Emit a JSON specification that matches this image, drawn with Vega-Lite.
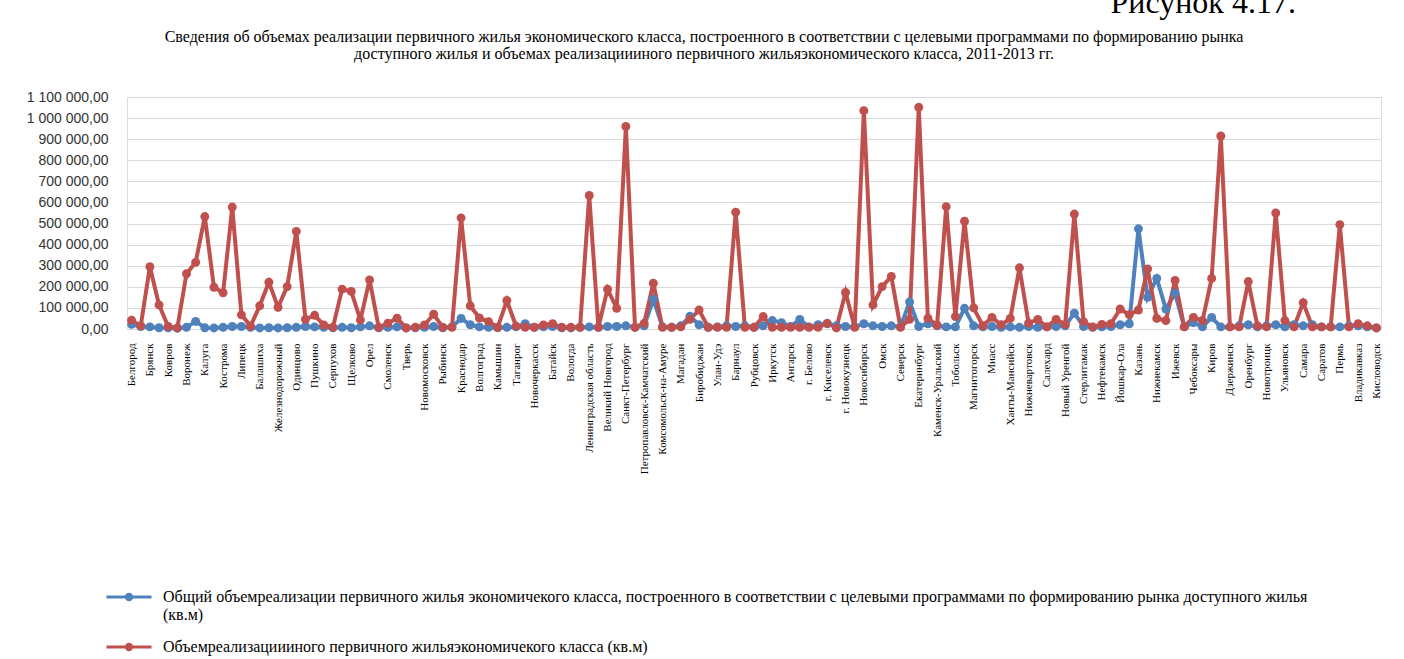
{
  "$schema": "https://vega.github.io/schema/vega-lite/v6.json",
  "width": 1254,
  "height": 232,
  "autosize": {"type": "none"},
  "padding": {"left": 127, "top": 97, "right": 23, "bottom": 330},
  "background": "white",
  "title": {
    "text": ["Сведения об объемах реализации первичного жилья экономического класса, построенного в соответствии с целевыми программами по формированию рынка", "доступного жилья и объемах реализациииного первичного жильяэкономического класса, 2011-2013 гг."],
    "font": "Liberation Serif",
    "fontSize": 16,
    "fontWeight": "normal",
    "color": "black",
    "anchor": "middle",
    "frame": "group",
    "dx": -50,
    "dy": 105,
    "offset": 29,
    "lineHeight": 17
  },
  "data": {
    "values": [
      {"c": "Белгород", "a": 22000, "b": 42000},
      {"c": "#1", "a": 12000, "b": 15000},
      {"c": "Брянск", "a": 10000, "b": 295000},
      {"c": "#3", "a": 6000, "b": 114000},
      {"c": "Ковров", "a": 5000, "b": 12000},
      {"c": "#5", "a": 4000, "b": 5000},
      {"c": "Воронеж", "a": 8000, "b": 262000},
      {"c": "#7", "a": 36000, "b": 316000},
      {"c": "Калуга", "a": 6000, "b": 533000},
      {"c": "#9", "a": 5000, "b": 198000},
      {"c": "Кострома", "a": 8000, "b": 172000},
      {"c": "#11", "a": 12000, "b": 578000},
      {"c": "Липецк", "a": 12000, "b": 67000},
      {"c": "#13", "a": 8000, "b": 14000},
      {"c": "Балашиха", "a": 5000, "b": 110000},
      {"c": "#15", "a": 6000, "b": 222000},
      {"c": "Железнодорожный", "a": 5000, "b": 103000},
      {"c": "#17", "a": 6000, "b": 201000},
      {"c": "Одинцово", "a": 8000, "b": 463000},
      {"c": "#19", "a": 12000, "b": 46000},
      {"c": "Пушкино", "a": 10000, "b": 65000},
      {"c": "#21", "a": 8000, "b": 19000},
      {"c": "Серпухов", "a": 6000, "b": 8000},
      {"c": "#23", "a": 8000, "b": 189000},
      {"c": "Щелково", "a": 6000, "b": 178000},
      {"c": "#25", "a": 10000, "b": 43000},
      {"c": "Орел", "a": 15000, "b": 233000},
      {"c": "#27", "a": 6000, "b": 8000},
      {"c": "Смоленск", "a": 8000, "b": 27000},
      {"c": "#29", "a": 10000, "b": 51000},
      {"c": "Тверь", "a": 5000, "b": 5000},
      {"c": "#31", "a": 6000, "b": 8000},
      {"c": "Новомосковск", "a": 8000, "b": 19000},
      {"c": "#33", "a": 12000, "b": 70000},
      {"c": "Рыбинск", "a": 6000, "b": 8000},
      {"c": "#35", "a": 10000, "b": 8000},
      {"c": "Краснодар", "a": 50000, "b": 527000},
      {"c": "#37", "a": 20000, "b": 110000},
      {"c": "Волгоград", "a": 10000, "b": 52000},
      {"c": "#39", "a": 8000, "b": 35000},
      {"c": "Камышин", "a": 6000, "b": 8000},
      {"c": "#41", "a": 8000, "b": 135000},
      {"c": "Таганрог", "a": 10000, "b": 14000},
      {"c": "#43", "a": 25000, "b": 8000},
      {"c": "Новочеркасск", "a": 8000, "b": 8000},
      {"c": "#45", "a": 10000, "b": 19000},
      {"c": "Батайск", "a": 12000, "b": 25000},
      {"c": "#47", "a": 6000, "b": 8000},
      {"c": "Вологда", "a": 5000, "b": 8000},
      {"c": "#49", "a": 8000, "b": 8000},
      {"c": "Ленинградская  область", "a": 10000, "b": 633000},
      {"c": "#51", "a": 8000, "b": 8000},
      {"c": "Великий Новгород", "a": 12000, "b": 189000},
      {"c": "#53", "a": 12000, "b": 98000},
      {"c": "Санкт-Петербург", "a": 15000, "b": 960000},
      {"c": "#55", "a": 8000, "b": 8000},
      {"c": "Петропавловск-Камчатский", "a": 15000, "b": 27000},
      {"c": "#57", "a": 140000, "b": 217000},
      {"c": "Комсомольск-на-Амуре", "a": 10000, "b": 8000},
      {"c": "#59", "a": 8000, "b": 8000},
      {"c": "Магадан", "a": 15000, "b": 10000},
      {"c": "#61", "a": 60000, "b": 46000},
      {"c": "Биробиджан", "a": 20000, "b": 90000},
      {"c": "#63", "a": 8000, "b": 8000},
      {"c": "Улан-Удэ", "a": 10000, "b": 8000},
      {"c": "#65", "a": 15000, "b": 8000},
      {"c": "Барнаул", "a": 12000, "b": 554000},
      {"c": "#67", "a": 15000, "b": 8000},
      {"c": "Рубцовск", "a": 8000, "b": 8000},
      {"c": "#69", "a": 15000, "b": 59000},
      {"c": "Иркутск", "a": 40000, "b": 8000},
      {"c": "#71", "a": 30000, "b": 8000},
      {"c": "Ангарск", "a": 12000, "b": 8000},
      {"c": "#73", "a": 45000, "b": 8000},
      {"c": "г. Белово", "a": 10000, "b": 8000},
      {"c": "#75", "a": 20000, "b": 8000},
      {"c": "г. Киселевск", "a": 25000, "b": 27000},
      {"c": "#77", "a": 15000, "b": 5000},
      {"c": "г. Новокузнецк", "a": 12000, "b": 173000},
      {"c": "#79", "a": 10000, "b": 8000},
      {"c": "Новосибирск", "a": 25000, "b": 1035000},
      {"c": "#81", "a": 15000, "b": 114000},
      {"c": "Омск", "a": 12000, "b": 201000},
      {"c": "#83", "a": 15000, "b": 249000},
      {"c": "Северск", "a": 10000, "b": 8000},
      {"c": "#85", "a": 128000, "b": 46000},
      {"c": "Екатеринбург", "a": 12000, "b": 1051000},
      {"c": "#87", "a": 25000, "b": 51000},
      {"c": "Каменск-Уральский", "a": 15000, "b": 19000},
      {"c": "#89", "a": 10000, "b": 580000},
      {"c": "Тобольск", "a": 10000, "b": 59000},
      {"c": "#91", "a": 98000, "b": 511000},
      {"c": "Магнитогорск", "a": 15000, "b": 100000},
      {"c": "#93", "a": 10000, "b": 15000},
      {"c": "Миасс", "a": 12000, "b": 55000},
      {"c": "#95", "a": 8000, "b": 20000},
      {"c": "Ханты-Мансийск", "a": 10000, "b": 50000},
      {"c": "#97", "a": 8000, "b": 290000},
      {"c": "Нижневартовск", "a": 12000, "b": 28000},
      {"c": "#99", "a": 8000, "b": 45000},
      {"c": "Салехард", "a": 10000, "b": 10000},
      {"c": "#101", "a": 12000, "b": 45000},
      {"c": "Новый Уренгой", "a": 15000, "b": 22000},
      {"c": "#103", "a": 75000, "b": 545000},
      {"c": "Стерлитамак", "a": 12000, "b": 35000},
      {"c": "#105", "a": 8000, "b": 10000},
      {"c": "Нефтекамск", "a": 10000, "b": 22000},
      {"c": "#107", "a": 12000, "b": 25000},
      {"c": "Йошкар-Ола", "a": 20000, "b": 95000},
      {"c": "#109", "a": 25000, "b": 68000},
      {"c": "Казань", "a": 475000, "b": 90000},
      {"c": "#111", "a": 150000, "b": 285000},
      {"c": "Нижнекамск", "a": 240000, "b": 50000},
      {"c": "#113", "a": 95000, "b": 40000},
      {"c": "Ижевск", "a": 170000, "b": 230000},
      {"c": "#115", "a": 10000, "b": 10000},
      {"c": "Чебоксары", "a": 30000, "b": 55000},
      {"c": "#117", "a": 10000, "b": 40000},
      {"c": "Киров", "a": 55000, "b": 240000},
      {"c": "#119", "a": 10000, "b": 915000},
      {"c": "Дзержинск", "a": 10000, "b": 10000},
      {"c": "#121", "a": 15000, "b": 10000},
      {"c": "Оренбург", "a": 20000, "b": 225000},
      {"c": "#123", "a": 10000, "b": 15000},
      {"c": "Новотроицк", "a": 15000, "b": 10000},
      {"c": "#125", "a": 20000, "b": 550000},
      {"c": "Ульяновск", "a": 10000, "b": 40000},
      {"c": "#127", "a": 20000, "b": 10000},
      {"c": "Самара", "a": 15000, "b": 125000},
      {"c": "#129", "a": 20000, "b": 10000},
      {"c": "Саратов", "a": 10000, "b": 10000},
      {"c": "#131", "a": 10000, "b": 10000},
      {"c": "Пермь", "a": 10000, "b": 495000},
      {"c": "#133", "a": 15000, "b": 10000},
      {"c": "Владикавказ", "a": 15000, "b": 25000},
      {"c": "#135", "a": 10000, "b": 15000},
      {"c": "Кисловодск", "a": 5000, "b": 5000}
    ]
  },
  "transform": [{"fold": ["a", "b"], "as": ["s", "v"]}],
  "mark": {"type": "line", "strokeWidth": 4, "point": {"size": 80, "filled": true}},
  "encoding": {
    "x": {
      "field": "c",
      "type": "ordinal",
      "sort": null,
      "scale": {"padding": 0.5},
      "axis": {
        "title": null,
        "values": ["Белгород", "Брянск", "Ковров", "Воронеж", "Калуга", "Кострома", "Липецк", "Балашиха", "Железнодорожный", "Одинцово", "Пушкино", "Серпухов", "Щелково", "Орел", "Смоленск", "Тверь", "Новомосковск", "Рыбинск", "Краснодар", "Волгоград", "Камышин", "Таганрог", "Новочеркасск", "Батайск", "Вологда", "Ленинградская  область", "Великий Новгород", "Санкт-Петербург", "Петропавловск-Камчатский", "Комсомольск-на-Амуре", "Магадан", "Биробиджан", "Улан-Удэ", "Барнаул", "Рубцовск", "Иркутск", "Ангарск", "г. Белово", "г. Киселевск", "г. Новокузнецк", "Новосибирск", "Омск", "Северск", "Екатеринбург", "Каменск-Уральский", "Тобольск", "Магнитогорск", "Миасс", "Ханты-Мансийск", "Нижневартовск", "Салехард", "Новый Уренгой", "Стерлитамак", "Нефтекамск", "Йошкар-Ола", "Казань", "Нижнекамск", "Ижевск", "Чебоксары", "Киров", "Дзержинск", "Оренбург", "Новотроицк", "Ульяновск", "Самара", "Саратов", "Пермь", "Владикавказ", "Кисловодск"],
        "labelAngle": -90,
        "labelFont": "Liberation Serif",
        "labelFontSize": 11,
        "labelColor": "black",
        "labelPadding": 14,
        "labelLimit": 300,
        "labelOverlap": false,
        "ticks": false,
        "domain": true,
        "domainColor": "#d9d9d9",
        "grid": false
      }
    },
    "y": {
      "field": "v",
      "type": "quantitative",
      "scale": {"domain": [0, 1100000], "nice": false},
      "axis": {
        "title": "Рисунок 4.17.",
        "titleAngle": 0,
        "titleX": 983,
        "titleY": -85,
        "titleAlign": "left",
        "titleBaseline": "alphabetic",
        "titleFont": "Liberation Serif",
        "titleFontSize": 32,
        "titleFontWeight": "normal",
        "titleColor": "black",
        "values": [0, 100000, 200000, 300000, 400000, 500000, 600000, 700000, 800000, 900000, 1000000, 1100000],
        "labelExpr": "replace(replace(format(datum.value, ',.2f'), regexp(',', 'g'), ' '), '.', ',')",
        "labelFont": "Liberation Sans",
        "labelFontSize": 14,
        "labelColor": "#333333",
        "labelPadding": 19,
        "ticks": false,
        "domain": false,
        "grid": true,
        "gridColor": "#d9d9d9",
        "gridWidth": 1
      }
    },
    "color": {
      "field": "s",
      "type": "nominal",
      "scale": {"domain": ["a", "b"], "range": ["#4F81BD", "#C0504D"]},
      "legend": {
        "title": null,
        "orient": "none",
        "legendX": -22,
        "legendY": 476,
        "direction": "vertical",
        "columns": 1,
        "labelExpr": "datum.value == 'a' ? ['Общий объемреализации  первичного жилья экономичекого класса, построенного в соответствии с целевыми программами по формированию рынка доступного жилья', '(кв.м)'] : 'Объемреализациииного первичного жильяэкономичекого класса (кв.м)'",
        "labelFont": "Liberation Serif",
        "labelFontSize": 16,
        "labelColor": "black",
        "labelLimit": 0,
        "labelOffset": 10,
        "symbolType": "M-1,0L1,0M-0.12,0A0.12,0.12 0 1,1 0.12,0A0.12,0.12 0 1,1 -0.12,0",
        "symbolSize": 2025,
        "symbolStrokeWidth": 3,
        "rowPadding": -11
      }
    }
  }
}
